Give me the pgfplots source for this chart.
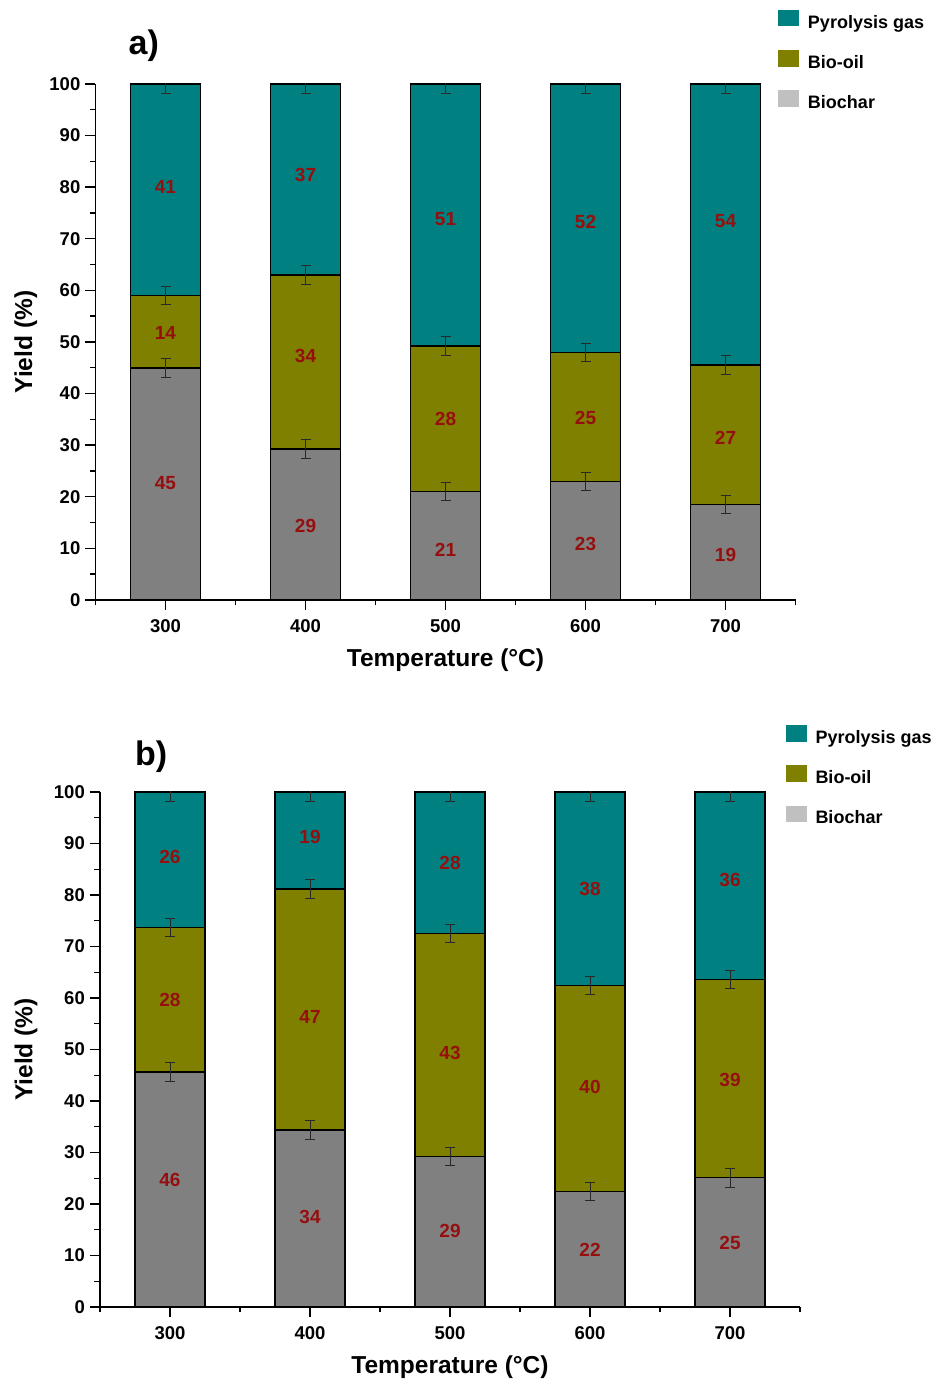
\documentclass[border=0pt]{standalone}
\usepackage{fontspec}
\setmainfont{Liberation Sans}
\usepackage{pgfplots}
\pgfplotsset{compat=1.18}

\definecolor{gas}{RGB}{0,128,128}
\definecolor{oil}{RGB}{128,128,0}
\definecolor{char}{RGB}{128,128,128}
\definecolor{charkey}{RGB}{192,192,192}
\definecolor{labred}{RGB}{150,15,15}
\definecolor{errline}{RGB}{40,40,40}

\pgfplotsset{
  panel/.style={
    scale only axis, width=700pt, height=#1,
    xmin=250, xmax=750, ymin=0, ymax=100,
  },
  frame/.style={
    axis x line*=bottom, axis y line*=left,
    axis line style={line width=1.6pt},
    xtick={300,400,500,600,700},
    minor xtick={250,350,450,550,650,750},
    ytick={0,10,...,100}, minor ytick={5,15,...,95},
    tick align=outside, major tick length=10pt, minor tick length=5.5pt,
    every tick/.style={black, line width=1.4pt},
    /pgf/number format/assume math mode=true,
    ticklabel style={font=\fontsize{18.5}{20}\selectfont\bfseries, inner sep=0pt},
    xticklabel style={yshift=-9pt},
    yticklabel style={xshift=-5pt},
    xlabel={Temperature (°C)}, ylabel={Yield (\%)},
    every axis x label/.style={at={(axis description cs:0.5,0)}, yshift=-60pt,
      anchor=center, inner sep=0pt, font=\fontsize{24.5}{26}\selectfont\bfseries},
    title style={anchor=west, inner sep=0pt, font=\fontsize{34}{36}\selectfont\bfseries},
    ybar stacked, bar width=50,
    reverse legend,
    legend cell align=left,
    legend style={draw=none, fill=none, inner sep=0pt, outer sep=0pt,
      anchor=north west, row sep=18pt, column sep=9pt,
      font=\fontsize{18}{20}\selectfont\bfseries,
      nodes={inner sep=0pt, text height=13pt, text depth=4pt}},
  },
  barstyle/.style={draw=black, line width=1.5pt},
  gaskey/.style={legend image code/.code={\fill[gas] (0pt,-2pt) rectangle (19pt,13pt);}},
  oilkey/.style={legend image code/.code={\fill[oil] (0pt,-2pt) rectangle (19pt,13pt);}},
  charkey/.style={legend image code/.code={\fill[charkey] (0pt,-2pt) rectangle (19pt,13pt);}},
  errs/.style={draw=none, mark=none, forget plot,
    error bars/.cd, y dir=both, y explicit,
    error bar style={draw=errline, line width=0.9pt},
    error mark options={draw=errline, line width=0.9pt, mark size=5pt, rotate=90}},
  labs/.style={draw=none, mark=none, forget plot,
    nodes near coords, point meta=explicit symbolic,
    nodes near coords style={anchor=center, inner sep=0pt, text=labred,
      font=\fontsize{19}{21}\selectfont\bfseries}},
}

\begin{document}
\begin{tikzpicture}
\path[use as bounding box] (0pt,0pt) rectangle (938pt,1384pt);

% ---------- a) ----------
\begin{axis}[panel=516pt, frame, at={(95.5pt,784pt)}, anchor=south west,
  title={a)}, title style={at={(axis description cs:0.047,1.0626)}},
  every axis y label/.style={at={(axis description cs:-0.0996,0.5)}, rotate=90,
    anchor=center, inner sep=0pt, font=\fontsize{24.5}{26}\selectfont\bfseries},
  legend style={at={(axis description cs:0.9757,1.1434)}}]
\addplot[barstyle, fill=char, charkey] coordinates {(300,45) (400,29.3) (500,21) (600,23) (700,18.5)};
\addplot[barstyle, fill=oil, oilkey] coordinates {(300,14) (400,33.7) (500,28.2) (600,25) (700,27)};
\addplot[barstyle, fill=gas, gaskey] coordinates {(300,41) (400,37) (500,50.8) (600,52) (700,54.5)};
\legend{Biochar, Bio-oil, Pyrolysis gas}
\end{axis}
\begin{axis}[panel=516pt, at={(95.5pt,784pt)}, anchor=south west, hide axis, clip=true]
\addplot[errs] coordinates {
  (300,45) +- (0,1.8) (300,59) +- (0,1.8) (300,100) +- (0,1.8)
  (400,29.3) +- (0,1.8) (400,63) +- (0,1.8) (400,100) +- (0,1.8)
  (500,21) +- (0,1.8) (500,49.2) +- (0,1.8) (500,100) +- (0,1.8)
  (600,23) +- (0,1.8) (600,48) +- (0,1.8) (600,100) +- (0,1.8)
  (700,18.5) +- (0,1.8) (700,45.5) +- (0,1.8) (700,100) +- (0,1.8)};
\addplot[labs] coordinates {
  (300,22.7)[45] (300,51.7)[14] (300,80.1)[41]
  (400,14.3)[29] (400,47.3)[34] (400,82.4)[37]
  (500,9.8)[21] (500,35.0)[28] (500,73.8)[51]
  (600,10.8)[23] (600,35.2)[25] (600,73.3)[52]
  (700,8.7)[19] (700,31.5)[27] (700,73.4)[54]};
\end{axis}

% ---------- b) ----------
\begin{axis}[panel=515pt, frame, at={(100pt,77pt)}, anchor=south west,
  title={b)}, title style={at={(axis description cs:0.05,1.0563)}},
  every axis y label/.style={at={(axis description cs:-0.1057,0.5)}, rotate=90,
    anchor=center, inner sep=0pt, font=\fontsize{24.5}{26}\selectfont\bfseries},
  legend style={at={(axis description cs:0.98,1.130)}}]
\addplot[barstyle, fill=char, charkey] coordinates {(300,45.6) (400,34.4) (500,29.2) (600,22.4) (700,25.1)};
\addplot[barstyle, fill=oil, oilkey] coordinates {(300,28.1) (400,46.8) (500,43.3) (600,40.0) (700,38.5)};
\addplot[barstyle, fill=gas, gaskey] coordinates {(300,26.3) (400,18.8) (500,27.5) (600,37.6) (700,36.4)};
\legend{Biochar, Bio-oil, Pyrolysis gas}
\end{axis}
\begin{axis}[panel=515pt, at={(100pt,77pt)}, anchor=south west, hide axis, clip=true]
\addplot[errs] coordinates {
  (300,45.6) +- (0,1.8) (300,73.7) +- (0,1.8) (300,100) +- (0,1.8)
  (400,34.4) +- (0,1.8) (400,81.2) +- (0,1.8) (400,100) +- (0,1.8)
  (500,29.2) +- (0,1.8) (500,72.5) +- (0,1.8) (500,100) +- (0,1.8)
  (600,22.4) +- (0,1.8) (600,62.4) +- (0,1.8) (600,100) +- (0,1.8)
  (700,25.1) +- (0,1.8) (700,63.6) +- (0,1.8) (700,100) +- (0,1.8)};
\addplot[labs] coordinates {
  (300,24.7)[46] (300,59.6)[28] (300,87.4)[26]
  (400,17.5)[34] (400,56.4)[47] (400,91.3)[19]
  (500,14.8)[29] (500,49.3)[43] (500,86.3)[28]
  (600,11.0)[22] (600,42.8)[40] (600,81.2)[38]
  (700,12.4)[25] (700,44.1)[39] (700,82.9)[36]};
\end{axis}
\end{tikzpicture}
\end{document}
